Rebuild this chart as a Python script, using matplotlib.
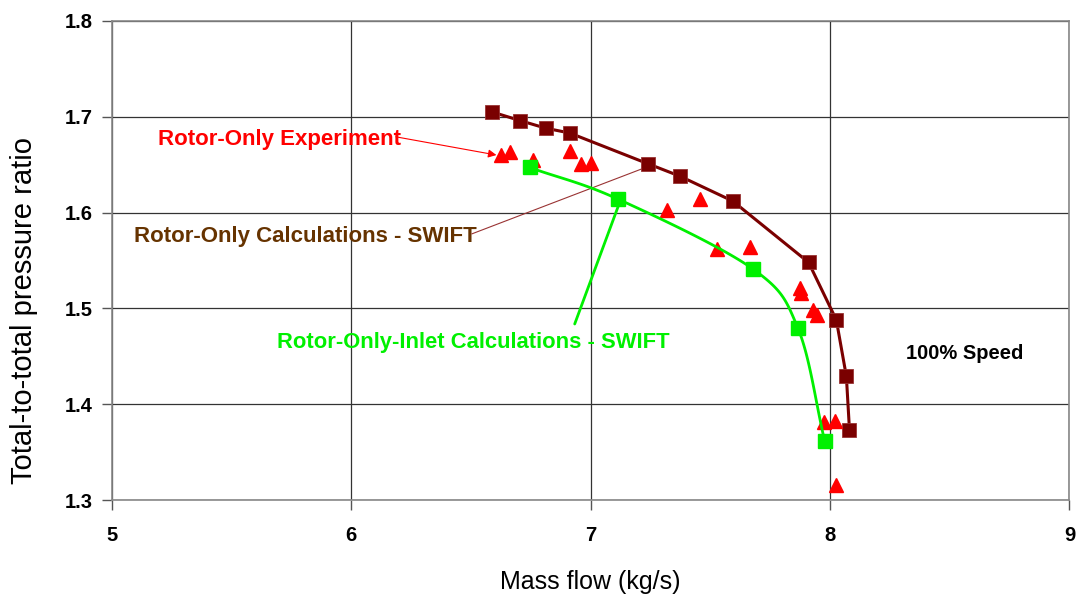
import numpy as np
import matplotlib
matplotlib.use("Agg")
import matplotlib.pyplot as plt

plt.rcParams['font.family'] = ['Liberation Sans', 'DejaVu Sans']

# Rotor-only calculations (SWIFT) - brown squares
rotor_x = [6.587, 6.704, 6.812, 6.912, 7.238, 7.372, 7.593, 7.910, 8.026, 8.068, 8.081]
rotor_y = [1.705, 1.696, 1.688, 1.683, 1.651, 1.638, 1.612, 1.548, 1.488, 1.429, 1.373]

# Rotor-only-inlet calculations (SWIFT) - green squares
inlet_x = [6.745, 7.114, 7.678, 7.866, 7.977]
inlet_y = [1.647, 1.614, 1.541, 1.479, 1.362]

# Rotor-only experiment - red triangles
exp_x = [6.627, 6.662, 6.759, 6.915, 6.961, 7.003, 7.319, 7.457, 7.527, 7.664,
         7.880, 7.874, 7.928, 7.945, 7.973, 8.019, 8.026]
exp_y = [1.660, 1.663, 1.655, 1.664, 1.651, 1.652, 1.603, 1.614, 1.562, 1.564,
         1.516, 1.521, 1.498, 1.493, 1.381, 1.382, 1.316]

xticks = [5, 6, 7, 8, 9]
yticks = [1.3, 1.4, 1.5, 1.6, 1.7, 1.8]

BROWN = '#7a0000'
GREEN = '#00f000'
RED = '#ff0000'


def smooth(xs, ys, xr, yr, n=30):
    # Catmull-Rom through the points, in normalised axis space
    px = (np.asarray(xs) - xr[0]) / (xr[1] - xr[0])
    py = (np.asarray(ys) - yr[0]) / (yr[1] - yr[0]) * 0.5
    P = np.column_stack([px, py])
    P = np.vstack([P[0] * 2 - P[1], P, P[-1] * 2 - P[-2]])
    out = []
    for i in range(1, len(P) - 2):
        p0, p1, p2, p3 = P[i - 1], P[i], P[i + 1], P[i + 2]
        t = np.linspace(0, 1, n)[:, None]
        c = 0.5 * ((2 * p1) + (-p0 + p2) * t + (2 * p0 - 5 * p1 + 4 * p2 - p3) * t ** 2
                   + (-p0 + 3 * p1 - 3 * p2 + p3) * t ** 3)
        out.append(c)
    out = np.vstack(out)
    return (out[:, 0] * (xr[1] - xr[0]) + xr[0],
            out[:, 1] / 0.5 * (yr[1] - yr[0]) + yr[0])


fig = plt.figure(figsize=(10.77, 5.96), dpi=100)
ax = fig.add_axes([0.104, 0.161, 0.889, 0.804])
ax.set_xlim(5, 9)
ax.set_ylim(1.3, 1.8)
ax.set_xticks(xticks)
ax.set_yticks(yticks)
ax.set_xticklabels([str(v) for v in xticks], fontweight='bold', fontsize=14.5)
ax.set_yticklabels([f"{v:.1f}" for v in yticks], fontweight='bold', fontsize=14.5)
ax.tick_params(direction='out', length=7, width=1, color='#555555')
ax.tick_params(axis='x', pad=12)
ax.tick_params(axis='y', pad=7)
ax.grid(True, color='#333333', linewidth=0.9)
ax.set_axisbelow(True)
for s in ax.spines.values():
    s.set_color('#888888')
    s.set_linewidth(1.2)

ax.set_xlabel('Mass flow (kg/s)', fontsize=18, labelpad=18)
ax.set_ylabel('Total-to-total pressure ratio', fontsize=21)
ax.yaxis.set_label_coords(-0.077, 0.396)

ax.plot(rotor_x, rotor_y, color=BROWN, linewidth=2.2, marker='s', markersize=10,
        markerfacecolor=BROWN, markeredgecolor='#993333', markeredgewidth=0.6, zorder=3)
ax.plot(exp_x, exp_y, linestyle='none', marker='^', markersize=10,
        markerfacecolor=RED, markeredgecolor=RED, zorder=4)
sx, sy = smooth(inlet_x, inlet_y, (5, 9), (1.3, 1.8))
ax.plot(sx, sy, color=GREEN, linewidth=2.0, zorder=5)
ax.plot(inlet_x, inlet_y, linestyle='none', marker='s', markersize=10,
        markerfacecolor=GREEN, markeredgecolor=GREEN, zorder=6)

# annotation texts
ax.text(5.192, 1.6706, 'Rotor-Only Experiment', fontsize=16, fontweight='bold',
        color=RED, ha='left', va='baseline')
ax.text(5.092, 1.5693, 'Rotor-Only Calculations - SWIFT', fontsize=16, fontweight='bold',
        color='#663300', ha='left', va='baseline')
ax.text(5.689, 1.4587, 'Rotor-Only-Inlet Calculations - SWIFT', fontsize=15.8,
        fontweight='bold', color=GREEN, ha='left', va='baseline')
ax.text(8.319, 1.4472, '100% Speed', fontsize=14.5, fontweight='bold', color='black',
        ha='left', va='baseline')

# leader lines
ax.annotate('', xy=(6.606, 1.660), xytext=(6.186, 1.679),
            arrowprops=dict(arrowstyle='-|>', color=RED, lw=0.8, mutation_scale=12,
                            shrinkA=0, shrinkB=0))
ax.annotate('', xy=(7.213, 1.6455), xytext=(6.503, 1.5777),
            arrowprops=dict(arrowstyle='-', color='#993333', lw=0.8,
                            shrinkA=0, shrinkB=0))
ax.annotate('', xy=(7.117, 1.608), xytext=(6.933, 1.4837),
            arrowprops=dict(arrowstyle='-', color=GREEN, lw=2.0,
                            shrinkA=0, shrinkB=0))

fig.savefig('out.png', dpi=100, facecolor='white')
